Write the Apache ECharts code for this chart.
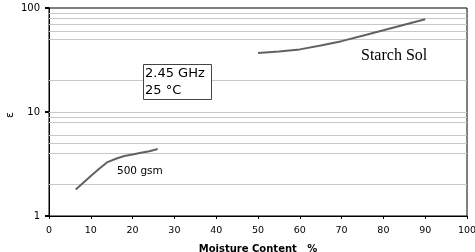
<!DOCTYPE html>
<html><head><meta charset="utf-8">
<script src="https://cdn.jsdelivr.net/npm/echarts@6/dist/echarts.min.js"></script>
<style>html,body{margin:0;padding:0;background:#fff}#c{width:475px;height:252px}</style>
</head><body><div id="c"></div>
<script>
const xTicks = [0,10,20,30,40,50,60,70,80,90,100];
const yTicks = [1,10,100];
const paperX = [6.4,8,10,12,14,16,18,20,22,24,26];
const paperY = [1.8,2.05,2.43,2.85,3.3,3.55,3.78,3.9,4.05,4.2,4.4];
const starchX = [50,55,60,65,70,75,80,85,90];
const starchY = [37,38.2,40,43.5,48,54,61,69,78];
const gridValues = [2,4,5,6,8,9,10,20,50,60,70,80,90];

const chart = echarts.init(document.getElementById('c'), null, {renderer:'canvas'});
const lineStyle = {color:'#626262', width:2};
chart.setOption({
  animation:false,
  grid:{left:49,right:8,top:8,bottom:36,containLabel:false,outerBoundsMode:'none',
    show:true,borderColor:'#000',borderWidth:1},
  xAxis:{type:'value',min:0,max:100,interval:10,
    axisLine:{lineStyle:{color:'#000',width:1}},
    axisTick:{show:true,length:3,lineStyle:{color:'#000'}},
    axisLabel:{fontFamily:'DejaVu Sans',fontSize:9.5,color:'#000',margin:10,
      formatter:v=>xTicks.includes(v)?String(v):''},
    splitLine:{show:false},
    name:'Moisture Content   %',nameLocation:'middle',nameGap:28,nameMoveOverlap:false,
    nameTextStyle:{fontFamily:'DejaVu Sans',fontSize:10,fontWeight:'bold',color:'#000'}},
  yAxis:{type:'log',logBase:10,min:1,max:100,
    axisLine:{show:true,lineStyle:{color:'#000',width:1}},
    axisTick:{show:true,length:4,lineStyle:{color:'#000',width:2}},
    axisLabel:{fontFamily:'DejaVu Sans',fontSize:10,color:'#000',margin:9,
      formatter:v=>yTicks.includes(Math.round(v))?String(Math.round(v)):''},
    splitLine:{show:false}},
  series:[
    {type:'line',data:[],silent:true,
      markLine:{silent:true,symbol:'none',label:{show:false},
        lineStyle:{color:'#c8c8c8',width:1,type:'solid'},
        data:gridValues.map(v=>({yAxis:v}))}},
    {type:'line',data:paperX.map((x,i)=>[x,paperY[i]]),showSymbol:false,lineStyle,z:5},
    {type:'line',data:starchX.map((x,i)=>[x,starchY[i]]),showSymbol:false,lineStyle,z:5}
  ],
  graphic:[
    {type:'text',x:10,y:115,rotation:Math.PI/2,
      style:{text:'ε',fontFamily:'DejaVu Sans',fontSize:11,fill:'#000',align:'center',verticalAlign:'middle'},z:11},
    {type:'rect',shape:{x:143.5,y:64.5,width:68,height:35},style:{fill:'#fff',stroke:'#444',lineWidth:1},z:10},
    {type:'text',left:145,top:65,style:{text:'2.45 GHz\n25 °C',fontFamily:'DejaVu Sans',fontSize:13,lineHeight:17,fill:'#000'},z:11},
    {type:'text',left:361,top:48,style:{text:'Starch Sol',fontFamily:'Liberation Serif',fontSize:16,fill:'#000'},z:11},
    {type:'text',left:117,top:166,style:{text:'500 gsm',fontFamily:'DejaVu Sans',fontSize:10.5,fill:'#000'},z:11}
  ]
});
</script></body></html>
